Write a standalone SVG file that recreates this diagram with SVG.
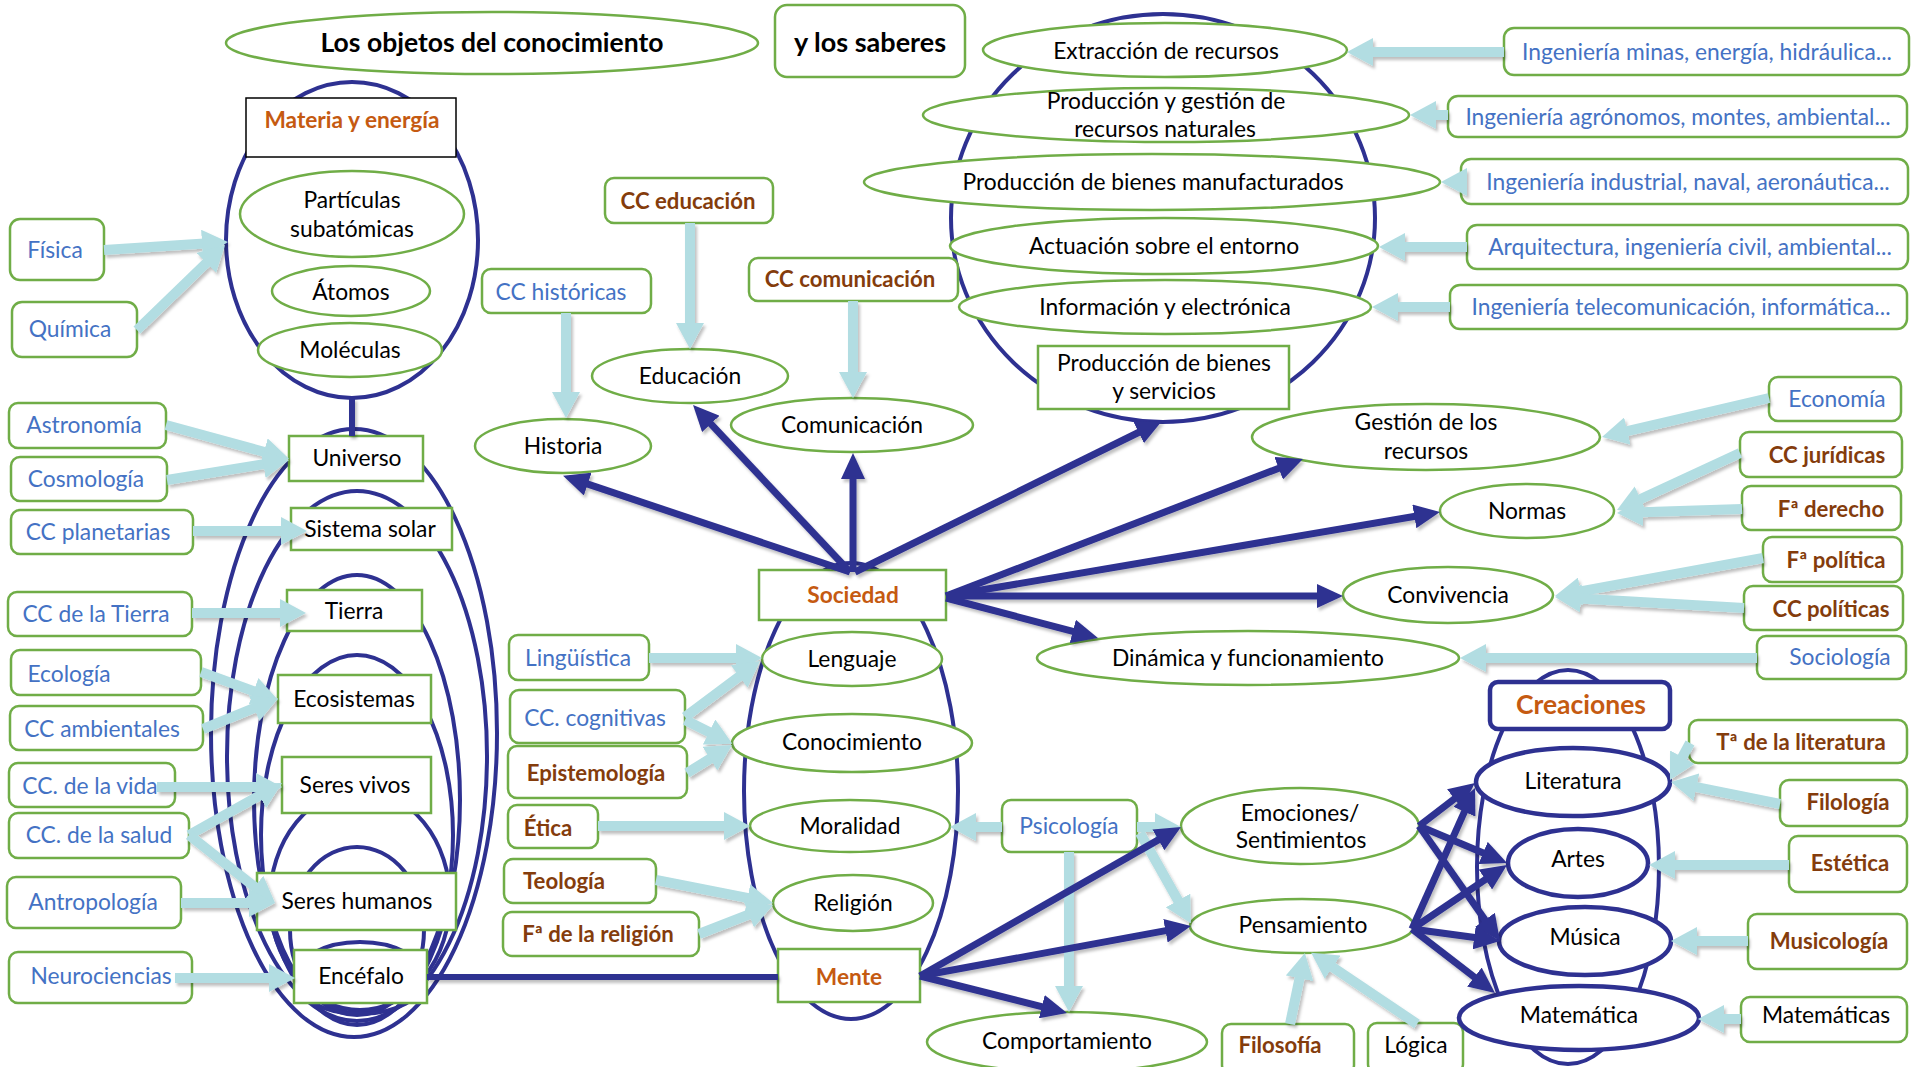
<svg xmlns="http://www.w3.org/2000/svg" width="1911" height="1067" viewBox="0 0 1911 1067">
<defs>
<style>
text{font-family:Lato,"Liberation Sans",sans-serif;font-size:22.8px;fill:#000;text-anchor:middle}
.bl{fill:#4472c4}
.br{fill:#843c0c;font-weight:bold;font-size:22.2px}
.or{fill:#c55a11;font-weight:bold;font-size:22.7px}
.bd{font-weight:bold}
.gb{fill:#fff;stroke:#70ad47;stroke-width:2.5}
.bk{fill:#fff;stroke:#000;stroke-width:1.5}
.nv{fill:none;stroke:#2e3191;stroke-width:4}
.nvf{fill:#fff;stroke:#2e3191;stroke-width:4.5}
.lb{fill:none;stroke:#b2dde2;stroke-width:10;marker-end:url(#ab)}
.na{fill:none;stroke:#2e3191;stroke-width:7;marker-end:url(#an)}
.nl{fill:none;stroke:#2e3191;stroke-width:6}
</style>
<marker id="ab" markerUnits="userSpaceOnUse" markerWidth="26" markerHeight="28" refX="10" refY="14" orient="auto"><path d="M0,0 L26,14 L0,28 z" fill="#b2dde2"/></marker>
<marker id="an" markerUnits="userSpaceOnUse" markerWidth="26" markerHeight="24" refX="10" refY="12" orient="auto"><path d="M0,0 L26,12 L0,24 z" fill="#2e3191"/></marker>
<filter id="sh" filterUnits="userSpaceOnUse" x="0" y="0" width="1911" height="1067"><feDropShadow dx="2" dy="3" stdDeviation="1.5" flood-color="#000" flood-opacity="0.25"/></filter>
</defs>
<rect width="1911" height="1067" fill="#fff"/>

<g id="containers">
<ellipse class="nv" cx="352" cy="240" rx="126" ry="158"/>
<ellipse class="nv" cx="354" cy="733" rx="143" ry="304"/>
<ellipse class="nv" cx="357" cy="756" rx="130" ry="265"/>
<ellipse class="nv" cx="357" cy="800" rx="103" ry="225"/>
<ellipse class="nv" cx="357" cy="835" rx="96" ry="180"/>
<ellipse class="nv" cx="360" cy="900" rx="90" ry="110"/>
<ellipse class="nv" cx="357" cy="930" rx="67" ry="83"/>
<ellipse class="nv" cx="360" cy="978" rx="65" ry="36"/>
<ellipse class="nv" cx="851" cy="791" rx="107" ry="228"/>
<ellipse class="nv" cx="1163" cy="218" rx="212" ry="204"/>
<ellipse class="nv" cx="1568" cy="867" rx="91" ry="197"/>
</g>

<g id="title"><ellipse class="gb" cx="492" cy="43" rx="266" ry="31"/><text class="bd" x="492" y="52" style="font-size:26.5px">Los objetos del conocimiento</text></g>
<g id="saberes"><rect class="gb" x="775" y="5" width="190" height="72" rx="12"/><text class="bd" x="870" y="52" style="font-size:27px">y los saberes</text></g>

<g id="materia"><rect class="bk" x="246" y="98" width="210" height="59"/><text class="or" x="352" y="128">Materia y energía</text></g>
<g id="particulas"><ellipse class="gb" cx="352" cy="214" rx="112" ry="43"/><text x="352" y="208">Partículas</text><text x="352" y="237">subatómicas</text></g>
<g id="atomos"><ellipse class="gb" cx="351" cy="291" rx="79" ry="25"/><text x="351" y="300">Átomos</text></g>
<g id="moleculas"><ellipse class="gb" cx="350" cy="350" rx="92" ry="27"/><text x="350" y="358">Moléculas</text></g>

<g id="fisica"><rect class="gb" x="10" y="219" width="94" height="61" rx="10"/><text class="bl" x="55" y="258">Física</text></g>
<g id="quimica"><rect class="gb" x="12" y="302" width="125" height="55" rx="10"/><text class="bl" x="70" y="337">Química</text></g>
<g id="astronomia"><rect class="gb" x="9" y="403" width="157" height="45" rx="9"/><text class="bl" x="84" y="433">Astronomía</text></g>
<g id="cosmologia"><rect class="gb" x="11" y="457" width="156" height="44" rx="9"/><text class="bl" x="86" y="487">Cosmología</text></g>
<g id="planetarias"><rect class="gb" x="11" y="510" width="182" height="44" rx="9"/><text class="bl" x="98" y="540">CC planetarias</text></g>
<g id="tierra-cc"><rect class="gb" x="8" y="592" width="184" height="44" rx="9"/><text class="bl" x="96" y="622">CC de la Tierra</text></g>
<g id="ecologia"><rect class="gb" x="11" y="650" width="190" height="45" rx="9"/><text class="bl" x="69" y="682">Ecología</text></g>
<g id="ambientales"><rect class="gb" x="10" y="706" width="193" height="44" rx="9"/><text class="bl" x="102" y="737">CC ambientales</text></g>
<g id="vida"><rect class="gb" x="9" y="763" width="166" height="44" rx="9"/><text class="bl" x="90" y="794">CC. de la vida</text></g>
<g id="salud"><rect class="gb" x="9" y="813" width="180" height="45" rx="9"/><text class="bl" x="99" y="843">CC. de la salud</text></g>
<g id="antropologia"><rect class="gb" x="7" y="877" width="174" height="51" rx="9"/><text class="bl" x="93" y="910">Antropología</text></g>
<g id="neuro"><rect class="gb" x="9" y="952" width="183" height="51" rx="9"/><text class="bl" x="101" y="984">Neurociencias</text></g>

<g id="universo"><rect class="gb" x="289" y="436" width="134" height="45"/><text x="357" y="466">Universo</text></g>
<g id="solar"><rect class="gb" x="291" y="508" width="161" height="42"/><text x="370" y="537">Sistema solar</text></g>
<g id="tierra"><rect class="gb" x="287" y="590" width="135" height="41"/><text x="354" y="619">Tierra</text></g>
<g id="ecosistemas"><rect class="gb" x="278" y="675" width="153" height="48"/><text x="354" y="707">Ecosistemas</text></g>
<g id="vivos"><rect class="gb" x="282" y="757" width="149" height="56"/><text x="355" y="793">Seres vivos</text></g>
<g id="humanos"><rect class="gb" x="257" y="873" width="199" height="57"/><text x="357" y="909">Seres humanos</text></g>
<g id="encefalo"><rect class="gb" x="294" y="950" width="133" height="53"/><text x="361" y="984">Encéfalo</text></g>

<g id="cc-educacion"><rect class="gb" x="605" y="178" width="168" height="45" rx="9"/><text class="br" x="688" y="209">CC educación</text></g>
<g id="cc-historicas"><rect class="gb" x="482" y="269" width="169" height="44" rx="9"/><text class="bl" x="561" y="300">CC históricas</text></g>
<g id="cc-comunicacion"><rect class="gb" x="749" y="258" width="209" height="43" rx="9"/><text class="br" x="850" y="287">CC comunicación</text></g>
<g id="educacion"><ellipse class="gb" cx="690" cy="376" rx="98" ry="27"/><text x="690" y="384">Educación</text></g>
<g id="historia"><ellipse class="gb" cx="563" cy="446" rx="88" ry="27"/><text x="563" y="454">Historia</text></g>
<g id="comunicacion"><ellipse class="gb" cx="852" cy="425" rx="121" ry="27"/><text x="852" y="433">Comunicación</text></g>

<g id="sociedad"><rect class="gb" x="759" y="570" width="187" height="50"/><text class="or" x="853" y="603">Sociedad</text></g>
<g id="lenguaje"><ellipse class="gb" cx="852" cy="659" rx="90" ry="27"/><text x="852" y="667">Lenguaje</text></g>
<g id="conocimiento"><ellipse class="gb" cx="852" cy="743" rx="120" ry="29"/><text x="852" y="750">Conocimiento</text></g>
<g id="moralidad"><ellipse class="gb" cx="850" cy="826" rx="100" ry="26"/><text x="850" y="834">Moralidad</text></g>
<g id="religion"><ellipse class="gb" cx="853" cy="903" rx="80" ry="28"/><text x="853" y="911">Religión</text></g>
<g id="mente"><rect class="gb" x="778" y="949" width="142" height="53"/><text class="or" x="849" y="985">Mente</text></g>

<g id="linguistica"><rect class="gb" x="509" y="635" width="140" height="45" rx="9"/><text class="bl" x="578" y="666">Lingüística</text></g>
<g id="cognitivas"><rect class="gb" x="510" y="690" width="175" height="53" rx="9"/><text class="bl" x="595" y="726">CC. cognitivas</text></g>
<g id="epistemologia"><rect class="gb" x="508" y="746" width="179" height="52" rx="9"/><text class="br" x="596" y="781">Epistemología</text></g>
<g id="etica"><rect class="gb" x="508" y="805" width="90" height="43" rx="9"/><text class="br" x="548" y="836">Ética</text></g>
<g id="teologia"><rect class="gb" x="504" y="859" width="152" height="44" rx="9"/><text class="br" x="564" y="889">Teología</text></g>
<g id="fa-religion"><rect class="gb" x="503" y="912" width="196" height="44" rx="9"/><text class="br" x="598" y="942">Fª de la religión</text></g>

<g id="extraccion"><ellipse class="gb" cx="1165" cy="50" rx="182" ry="27"/><text x="1166" y="59">Extracción de recursos</text></g>
<g id="prod-gestion"><ellipse class="gb" cx="1166" cy="115" rx="243" ry="27"/><text x="1166" y="109">Producción y gestión de</text><text x="1165" y="137">recursos naturales</text></g>
<g id="manufacturados"><ellipse class="gb" cx="1152" cy="182" rx="288" ry="28"/><text x="1153" y="190">Producción de bienes manufacturados</text></g>
<g id="actuacion"><ellipse class="gb" cx="1164" cy="246" rx="214" ry="28"/><text x="1164" y="254">Actuación sobre el entorno</text></g>
<g id="informacion"><ellipse class="gb" cx="1165" cy="307" rx="206" ry="27"/><text x="1165" y="315">Información y electrónica</text></g>
<g id="bienes-servicios"><rect class="gb" x="1038" y="346" width="251" height="63"/><text x="1164" y="371">Producción de bienes</text><text x="1164" y="399">y servicios</text></g>

<g id="ing-minas"><rect class="gb" x="1504" y="28" width="405" height="47" rx="10"/><text class="bl" x="1707" y="60">Ingeniería minas, energía, hidráulica...</text></g>
<g id="ing-agro"><rect class="gb" x="1448" y="96" width="459" height="41" rx="10"/><text class="bl" x="1678" y="125">Ingeniería agrónomos, montes, ambiental...</text></g>
<g id="ing-ind"><rect class="gb" x="1461" y="159" width="447" height="45" rx="10"/><text class="bl" x="1688" y="190">Ingeniería industrial, naval, aeronáutica...</text></g>
<g id="arquitectura"><rect class="gb" x="1467" y="225" width="441" height="44" rx="10"/><text class="bl" x="1690" y="255">Arquitectura, ingeniería civil, ambiental...</text></g>
<g id="ing-tele"><rect class="gb" x="1450" y="285" width="457" height="44" rx="10"/><text class="bl" x="1681" y="315">Ingeniería telecomunicación, informática...</text></g>

<g id="gestion"><ellipse class="gb" cx="1426" cy="437" rx="174" ry="33"/><text x="1426" y="430">Gestión de los</text><text x="1426" y="459">recursos</text></g>
<g id="normas"><ellipse class="gb" cx="1527" cy="511" rx="87" ry="27"/><text x="1527" y="519">Normas</text></g>
<g id="convivencia"><ellipse class="gb" cx="1448" cy="595" rx="105" ry="28"/><text x="1448" y="603">Convivencia</text></g>
<g id="dinamica"><ellipse class="gb" cx="1248" cy="658" rx="211" ry="27"/><text x="1248" y="666">Dinámica y funcionamiento</text></g>

<g id="economia"><rect class="gb" x="1769" y="377" width="132" height="44" rx="9"/><text class="bl" x="1837" y="407">Economía</text></g>
<g id="juridicas"><rect class="gb" x="1740" y="432" width="162" height="45" rx="9"/><text class="br" x="1827" y="463">CC jurídicas</text></g>
<g id="derecho"><rect class="gb" x="1742" y="486" width="159" height="44" rx="9"/><text class="br" x="1831" y="517">Fª derecho</text></g>
<g id="fa-politica"><rect class="gb" x="1763" y="537" width="139" height="45" rx="9"/><text class="br" x="1836" y="568">Fª política</text></g>
<g id="cc-politicas"><rect class="gb" x="1744" y="586" width="159" height="44" rx="9"/><text class="br" x="1831" y="617">CC políticas</text></g>
<g id="sociologia"><rect class="gb" x="1757" y="636" width="149" height="43" rx="9"/><text class="bl" x="1840" y="665">Sociología</text></g>

<g id="psicologia"><rect class="gb" x="1002" y="800" width="135" height="52" rx="9"/><text class="bl" x="1069" y="834">Psicología</text></g>
<g id="emociones"><ellipse class="gb" cx="1300" cy="826" rx="119" ry="38"/><text x="1300" y="821">Emociones/</text><text x="1301" y="848">Sentimientos</text></g>
<g id="pensamiento"><ellipse class="gb" cx="1302" cy="926" rx="112" ry="27"/><text x="1303" y="933">Pensamiento</text></g>
<g id="comportamiento"><ellipse class="gb" cx="1067" cy="1042" rx="140" ry="30"/><text x="1067" y="1049">Comportamiento</text></g>
<g id="filosofia"><rect class="gb" x="1222" y="1024" width="132" height="50" rx="9"/><text class="br" x="1280" y="1053">Filosofía</text></g>
<g id="logica"><rect class="gb" x="1368" y="1023" width="95" height="50" rx="9"/><text x="1416" y="1053">Lógica</text></g>

<g id="creaciones"><rect class="nvf" x="1490" y="682" width="180" height="47" rx="8"/><text class="or" x="1581" y="714" style="font-size:26.5px">Creaciones</text></g>
<g id="literatura"><ellipse class="nvf" cx="1573" cy="782" rx="97" ry="34"/><text x="1573" y="789">Literatura</text></g>
<g id="artes"><ellipse class="nvf" cx="1578" cy="863" rx="70" ry="34"/><text x="1578" y="867">Artes</text></g>
<g id="musica"><ellipse class="nvf" cx="1585" cy="941" rx="86" ry="34"/><text x="1585" y="945">Música</text></g>
<g id="matematica"><ellipse class="nvf" cx="1579" cy="1018" rx="120" ry="32"/><text x="1579" y="1023">Matemática</text></g>

<g id="ta-literatura"><rect class="gb" x="1689" y="720" width="218" height="43" rx="9"/><text class="br" x="1801" y="750">Tª de la literatura</text></g>
<g id="filologia"><rect class="gb" x="1780" y="780" width="127" height="46" rx="9"/><text class="br" x="1848" y="810">Filología</text></g>
<g id="estetica"><rect class="gb" x="1789" y="836" width="118" height="56" rx="9"/><text class="br" x="1850" y="871">Estética</text></g>
<g id="musicologia"><rect class="gb" x="1748" y="914" width="159" height="55" rx="9"/><text class="br" x="1829" y="949">Musicología</text></g>
<g id="matematicas"><rect class="gb" x="1741" y="997" width="166" height="45" rx="9"/><text x="1826" y="1023">Matemáticas</text></g>

<g id="connectors" filter="url(#sh)">
<path class="nl" d="M352,398 L352,436"/>
<path class="nl" d="M427,977 L778,977"/>
<path class="lb" d="M104,250 L212,243"/>
<path class="lb" d="M137,330 L213.5,256"/>
<path class="lb" d="M166,425 L273.6,454.5"/>
<path class="lb" d="M167,480 L273.2,462.6"/>
<path class="lb" d="M193,531 L291,531"/>
<path class="lb" d="M192,613 L290,613"/>
<path class="lb" d="M201,672 L263,694.6"/>
<path class="lb" d="M203,729 L263.3,704.3"/>
<path class="lb" d="M157,787 L266,787"/>
<path class="lb" d="M189,835 L268,790.8"/>
<path class="lb" d="M189,835 L262.5,893"/>
<path class="lb" d="M181,903 L259,903"/>
<path class="lb" d="M175,978 L279,978"/>
<path class="lb" d="M566,313 L566,402"/>
<path class="lb" d="M690,223 L690,333"/>
<path class="lb" d="M853,301 L853,382"/>
<path class="lb" d="M649,658 L746,658"/>
<path class="lb" d="M685,717 L747.2,670.6"/>
<path class="lb" d="M685,720 L718,736.5"/>
<path class="lb" d="M687,773 L718.4,753.4"/>
<path class="lb" d="M598,826 L734,826"/>
<path class="lb" d="M656,880 L757.3,899.9"/>
<path class="lb" d="M699,934 L758.1,910.8"/>
<path class="lb" d="M1002,827 L966,827"/>
<path class="lb" d="M1137,827 L1165,827"/>
<path class="lb" d="M1140,833 L1183,909.2"/>
<path class="lb" d="M1069,852 L1069,996"/>
<path class="lb" d="M1290,1024 L1301.6,968.6"/>
<path class="lb" d="M1417,1024 L1324.4,961.7"/>
<path class="lb" d="M1504,52 L1363,52"/>
<path class="lb" d="M1448,115 L1426,115"/>
<path class="lb" d="M1461,182 L1457,182"/>
<path class="lb" d="M1467,247 L1395,247"/>
<path class="lb" d="M1450,307 L1388,307"/>
<path class="lb" d="M1769,398 L1617.6,433.4"/>
<path class="lb" d="M1740,453 L1631.5,503.3"/>
<path class="lb" d="M1742,509 L1633,512.5"/>
<path class="lb" d="M1763,558 L1570.7,593.1"/>
<path class="lb" d="M1744,608 L1571,597.9"/>
<path class="lb" d="M1757,658 L1476,658"/>
<path class="lb" d="M1690,743 L1677.6,765.9"/>
<path class="lb" d="M1780,804 L1686.7,785.2"/>
<path class="lb" d="M1789,865 L1665,865"/>
<path class="lb" d="M1748,941 L1687,941"/>
<path class="lb" d="M1741,1019 L1714,1019"/>
<path class="na" d="M850,572 L578.2,480.9"/>
<path class="na" d="M850,572 L704,416.6"/>
<path class="na" d="M853,572 L853,469"/>
<path class="na" d="M855,572 L1147.6,428"/>
<path class="na" d="M946,596 L1288,464.7"/>
<path class="na" d="M946,596 L1424.2,514.7"/>
<path class="na" d="M946,596 L1327,596"/>
<path class="na" d="M946,598 L1082.5,633.9"/>
<path class="na" d="M920,976 L1167.1,834.9"/>
<path class="na" d="M920,976 L1175.3,928.9"/>
<path class="na" d="M920,976 L1051.5,1009.1"/>
<path class="na" d="M1419,826 L1462.3,792.7"/>
<path class="na" d="M1419,826 L1492.3,856.8"/>
<path class="na" d="M1419,826 L1490.8,927.9"/>
<path class="na" d="M1412,929 L1468.5,802.6"/>
<path class="na" d="M1412,929 L1493.7,873.9"/>
<path class="na" d="M1412,929 L1484.1,938.8"/>
<path class="na" d="M1412,929 L1482.3,983.2"/>
</g>
</svg>
